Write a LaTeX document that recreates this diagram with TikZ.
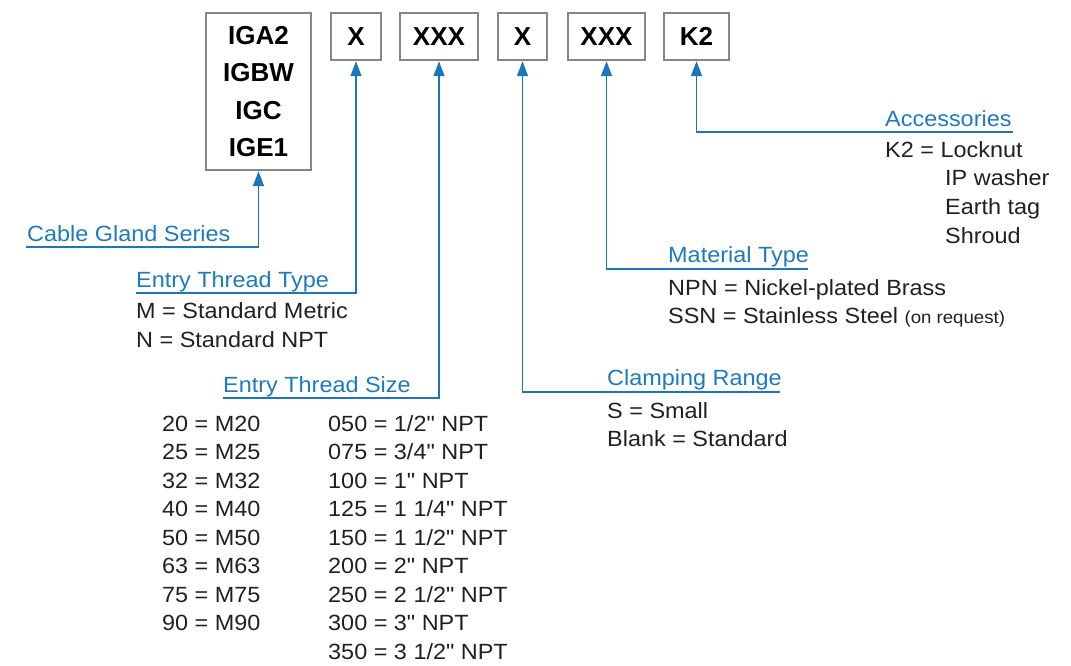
\documentclass[tikz,border=0pt]{standalone}
\usepackage{fontspec}
\usetikzlibrary{arrows.meta}
\newfontfamily\bodyfont[FakeStretch=1.065]{Liberation Sans}
\newfontfamily\boxfont{Liberation Sans}
\definecolor{lblblue}{HTML}{1E7AC0}
\definecolor{lineblue}{HTML}{1B76BC}
\definecolor{boxgray}{HTML}{868686}
\definecolor{txt}{HTML}{231F20}
\begin{document}
\begin{tikzpicture}[x=1pt,y=-1pt,
 code/.style={draw=boxgray,line width=2.4pt,inner sep=0pt,minimum height=47pt,
   font=\boxfont\bfseries\fontsize{26}{37.3}\selectfont,align=center,text=black},
 lbl/.style={anchor=base west,inner sep=0pt,font=\bodyfont\fontsize{22}{26}\selectfont,text=lblblue},
 body/.style={anchor=base west,inner sep=0pt,font=\bodyfont\fontsize{22}{26}\selectfont,text=txt},
 conn/.style={draw=lineblue,line width=1.6pt,-{Triangle[length=15pt,width=11pt]}}]
\useasboundingbox (0,0) rectangle (1071,665);
% code boxes
\node[code,minimum width=105pt,minimum height=157pt] (b1) at (258.5,91.5) {IGA2\\IGBW\\IGC\\IGE1};
\node[code,minimum width=50pt] (b2) at (356,36.5) {X};
\node[code,minimum width=78pt] (b3) at (439,36.5) {XXX};
\node[code,minimum width=49pt] (b4) at (522.5,36.5) {X};
\node[code,minimum width=77pt] (b5) at (606.5,36.5) {XXX};
\node[code,minimum width=65pt] (b6) at (696.5,36.5) {K2};
% labels
\node[lbl] (cgs) at (27,241) {Cable Gland Series};
\node[lbl] (ett) at (136,287) {Entry Thread Type};
\node[body] (ett1) at (136,318) {M = Standard Metric};
\node[body] (ett2) at (136,347) {N = Standard NPT};
\node[lbl] (ets) at (223,392) {Entry Thread Size};
\foreach \t [count=\i from 0] in {20 = M20,25 = M25,32 = M32,40 = M40,50 = M50,63 = M63,75 = M75,90 = M90}
  \node[body,name=sl\i] at (162,431+28.55*\i) {\t};
\foreach \t [count=\i from 0] in {050 = 1/2" NPT,075 = 3/4" NPT,100 = 1" NPT,125 = 1 1/4" NPT,150 = 1 1/2" NPT,200 = 2" NPT,250 = 2 1/2" NPT,300 = 3" NPT,350 = 3 1/2" NPT}
  \node[body,name=sr\i] at (328,431+28.55*\i) {\t};
\node[lbl] (cr) at (607,385) {Clamping Range};
\node[body] (cr1) at (607,418) {S = Small};
\node[body] (cr2) at (607,446) {Blank = Standard};
\node[lbl] (mt) at (668,262) {Material Type};
\node[body] (mt1) at (668,295) {NPN = Nickel-plated Brass};
\node[body] (mt2) at (668,323) {SSN = Stainless Steel {\fontsize{17.5}{20}\selectfont(on request)}};
\node[lbl] (acc) at (885,126) {Accessories};
\node[body] (acc1) at (885,157) {K2 = Locknut};
\node[body] (acc2) at (945,185) {IP washer};
\node[body] (acc3) at (945,214) {Earth tag};
\node[body] (acc4) at (945,243) {Shroud};
% connector ends
\coordinate (cgsL) at (26,247);
\coordinate (ettL) at (136,293);
\coordinate (etsL) at (223,398);
\coordinate (crR) at (780,392);
\coordinate (mtR) at (808,269);
\coordinate (accR) at (1013,132);
\draw[conn] (cgsL) -| (b1.south);
\draw[conn] (ettL) -| (b2.south);
\draw[conn] (etsL) -| (b3.south);
\draw[conn] (crR) -| (b4.south);
\draw[conn] (mtR) -| (b5.south);
\draw[conn] (accR) -| (b6.south);
\end{tikzpicture}
\end{document}
